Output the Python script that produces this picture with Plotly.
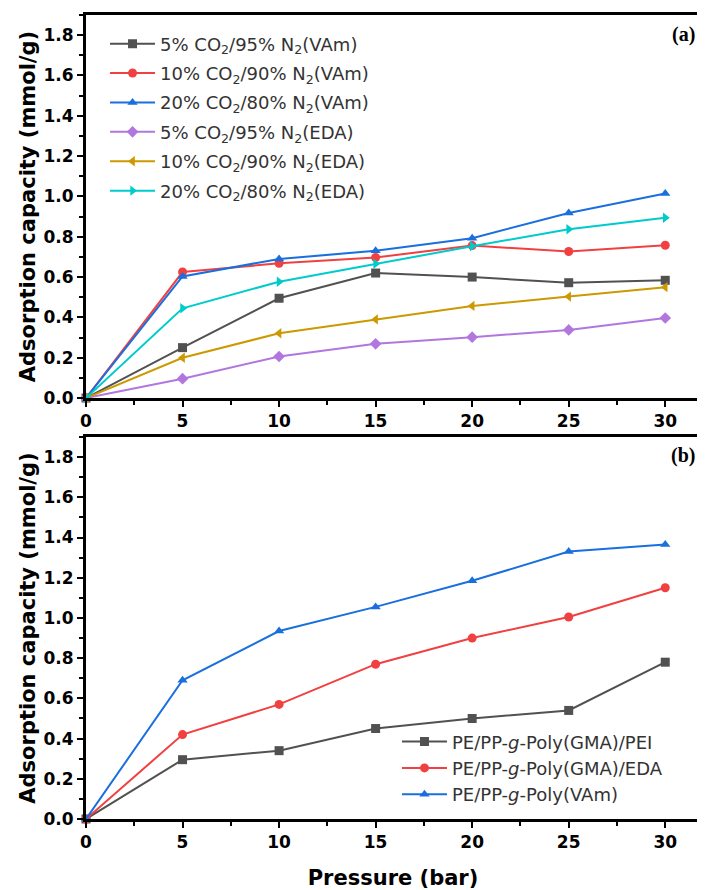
import plotly.graph_objects as go

pressure = [0, 5, 10, 15, 20, 25, 30]

# Panel (a)
a_vam_5 = [0, 0.250, 0.495, 0.620, 0.600, 0.572, 0.584]
a_vam_10 = [0, 0.625, 0.668, 0.697, 0.756, 0.727, 0.758]
a_vam_20 = [0, 0.603, 0.690, 0.730, 0.793, 0.918, 1.015]
a_eda_5 = [0, 0.096, 0.206, 0.269, 0.302, 0.338, 0.397]
a_eda_10 = [0, 0.200, 0.321, 0.390, 0.457, 0.503, 0.550]
a_eda_20 = [0, 0.445, 0.577, 0.666, 0.753, 0.837, 0.894]

a_names = [
    "5% CO<sub>2</sub>/95% N<sub>2</sub>(VAm)",
    "10% CO<sub>2</sub>/90% N<sub>2</sub>(VAm)",
    "20% CO<sub>2</sub>/80% N<sub>2</sub>(VAm)",
    "5% CO<sub>2</sub>/95% N<sub>2</sub>(EDA)",
    "10% CO<sub>2</sub>/90% N<sub>2</sub>(EDA)",
    "20% CO<sub>2</sub>/80% N<sub>2</sub>(EDA)",
]

# Panel (b)
b_pei = [0, 0.295, 0.340, 0.450, 0.500, 0.540, 0.780]
b_eda = [0, 0.420, 0.570, 0.770, 0.900, 1.005, 1.150]
b_vam = [0, 0.690, 0.935, 1.055, 1.185, 1.330, 1.365]

b_names = [
    "PE/PP-<i>g</i>-Poly(GMA)/PEI",
    "PE/PP-<i>g</i>-Poly(GMA)/EDA",
    "PE/PP-<i>g</i>-Poly(VAm)",
]

y_ticks = [0.0, 0.2, 0.4, 0.6, 0.8, 1.0, 1.2, 1.4, 1.6, 1.8]
x_ticks = [0, 5, 10, 15, 20, 25, 30]

colors_a = ["#515151", "#F14040", "#1A6FDF", "#B177DE", "#CC9900", "#00CBCC"]
symbols_a = ["square", "circle", "triangle-up", "diamond", "triangle-left", "triangle-right"]
colors_b = ["#515151", "#F14040", "#1A6FDF"]
symbols_b = ["square", "circle", "triangle-up"]

fig = go.Figure()

for i, (vals, name, c, s) in enumerate(zip([a_vam_5, a_vam_10, a_vam_20, a_eda_5, a_eda_10, a_eda_20],
                                           a_names, colors_a, symbols_a)):
    fig.add_trace(go.Scatter(
        x=pressure, y=vals, name=name, mode="lines+markers", legendgroup=f"a{i}",
        line=dict(color=c, width=2), marker=dict(symbol=s, size=9, color=c),
        xaxis="x", yaxis="y", legend="legend", cliponaxis=False))

for i, (vals, name, c, s) in enumerate(zip([b_pei, b_eda, b_vam], b_names, colors_b, symbols_b)):
    fig.add_trace(go.Scatter(
        x=pressure, y=vals, name=name, mode="lines+markers", legendgroup=f"b{i}",
        line=dict(color=c, width=2), marker=dict(symbol=s, size=9, color=c),
        xaxis="x2", yaxis="y2", legend="legend2", cliponaxis=False))

FAM = "DejaVu Sans, Arial"
tickfont = dict(family=FAM, size=17, color="black", weight="bold")
titlefont = dict(family=FAM, size=21, color="black", weight="bold")

def xax(anchor, show_title):
    d = dict(range=[0, 31.8], tickvals=x_ticks, ticks="outside", ticklen=6, tickwidth=2,
             tickcolor="black", showline=True, linewidth=3, linecolor="black", mirror=True,
             showgrid=False, zeroline=False, tickfont=tickfont, anchor=anchor, automargin=False,
             minor=dict(dtick=2.5, tick0=0, ticks="outside", ticklen=4, tickwidth=2, tickcolor="black"))
    if show_title:
        d["title"] = dict(text="Pressure (bar)", font=dict(family=FAM, size=21,
                                                           color="black", weight="bold"), standoff=22)
    return d

def yax(domain, anchor):
    return dict(domain=domain, range=[0, 1.9], tickvals=y_ticks, ticktext=[f"{v:.1f}" for v in y_ticks],
                ticks="outside", ticklen=6, tickwidth=2, tickcolor="black",
                showline=True, linewidth=3, linecolor="black", mirror=True,
                showgrid=False, zeroline=False, tickfont=tickfont, anchor=anchor, automargin=False,
                minor=dict(dtick=0.1, tick0=0, ticks="outside", ticklen=4, tickwidth=2, tickcolor="black"),
                title=dict(text="Adsorption capacity (mmol/g)", font=titlefont, standoff=3))

fig.update_layout(
    width=697, height=882,
    margin=dict(l=78, r=5, t=7, b=71),
    plot_bgcolor="white", paper_bgcolor="white",
    xaxis=xax("y", False),
    yaxis=yax([0.5236, 1.0], "x"),
    xaxis2=xax("y2", True),
    yaxis2=yax([0.0, 0.4751], "x2"),
    legend=dict(x=0.031, y=0.987, xanchor="left", yanchor="top", bgcolor="rgba(0,0,0,0)",
                font=dict(family=FAM, size=18, color="#333333"),
                tracegroupgap=3, itemwidth=45),
    legend2=dict(x=0.5065, y=0.119, xanchor="left", yanchor="top", bgcolor="rgba(0,0,0,0)",
                 font=dict(family=FAM, size=18, color="#333333"),
                 tracegroupgap=0, itemwidth=45),
    showlegend=True,
    annotations=[
        dict(text="(a)", x=0.995, y=0.976, xref="paper", yref="paper", xanchor="right", yanchor="middle",
             showarrow=False, font=dict(family="Liberation Serif, Times New Roman", size=20,
                                        color="black", weight="bold")),
        dict(text="(b)", x=0.995, y=0.4527, xref="paper", yref="paper", xanchor="right", yanchor="middle",
             showarrow=False, font=dict(family="Liberation Serif, Times New Roman", size=20,
                                        color="black", weight="bold")),
    ],
)

fig.write_html("out.html")
